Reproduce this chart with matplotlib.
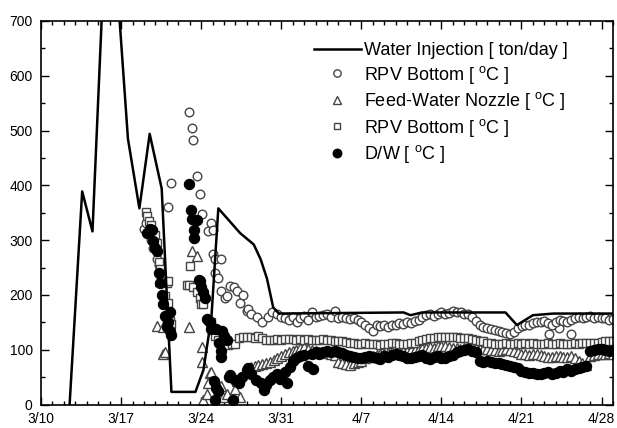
import numpy as np
import matplotlib
matplotlib.use('Agg')
import matplotlib.pyplot as plt
from matplotlib.ticker import MultipleLocator

plt.rcParams['font.family'] = ['Liberation Sans', 'DejaVu Sans']
plt.rcParams['mathtext.fontset'] = 'custom'
plt.rcParams['mathtext.rm'] = 'Liberation Sans'

# days since 3/10
tick_days = [0, 7, 14, 21, 28, 35, 42, 49]
tick_labels = ['3/10', '3/17', '3/24', '3/31', '4/7', '4/14', '4/21', '4/28']

# water injection [ton/day]
inj_day = [2.5, 3.6, 4.5, 5.9, 7.6, 8.6, 9.5, 10.55, 11.4, 13.5, 14.2, 14.9, 15.5,
           17.4, 18.6, 19.2, 19.75, 20.3, 20.8, 31.7, 32.3, 33.3, 40.6, 41.6, 43.0, 44.8, 50.0]
inj_val = [0, 389, 316, 990, 485, 358, 494, 394, 23, 23, 63, 160, 358,
           313, 292, 265, 230, 177, 166, 168, 163, 168, 168, 145, 163, 166, 166]

# RPV bottom (circles): scattered early readings
circ_day = [9.0, 9.2, 9.4, 9.6, 9.8, 10.1, 10.3, 11.1, 11.4, 12.95, 13.2, 13.3, 13.6, 13.9,
            14.1, 14.6, 14.85, 15.0, 15.0, 15.2, 15.75, 15.2, 15.5, 15.7, 16.1, 16.3, 16.5,
            16.9, 17.1, 17.4, 17.7, 18.0, 18.1, 18.4, 18.9, 19.3, 19.8, 20.2, 44.4, 45.3, 46.3]
circ_val = [320, 331, 312, 300, 285, 265, 255, 360, 405, 533, 504, 482, 417, 385,
            347, 316, 331, 319, 274, 266, 265, 240, 230, 207, 195, 198, 217,
            214, 207, 186, 199, 171, 174, 165, 159, 150, 160, 168, 129, 140, 129]
# RPV bottom (circles): readings every 8 h from day 20.67
circ_band = [165, 160, 158, 155, 160, 150, 158, 162, 155, 168, 160, 162, 163, 165, 160,
             170, 158, 160, 157, 156, 158, 155, 150, 145, 140, 135, 145, 143, 145, 142,
             146, 145, 148, 147, 150, 148, 152, 155, 160, 163, 165, 162, 166, 168, 165,
             167, 170, 168, 168, 166, 165, 160, 152, 146, 142, 140, 138, 136, 134, 132,
             130, 128, 132, 140, 144, 146, 146, 148, 150, 150, 152, 148, 146, 150, 155,
             152, 150, 155, 158, 160, 157, 160, 162, 158, 160, 158, 157, 155, 156]

# feed-water nozzle (triangles)
tri_day = [10.1, 10.3, 10.4, 10.7, 10.7, 10.85, 12.9, 13.2, 13.6, 14.05, 14.05, 14.2,
           14.5, 14.6, 14.8, 14.9, 15.7, 15.9, 16.25, 17.0, 17.1, 17.4]
tri_val = [144, 250, 225, 141, 93, 96, 141, 280, 271, 105, 78, 8,
           20, 39, 57, 60, 33, 14, 20, 29, 42, 14]
tri_band = [66, 68, 70, 72, 74, 76, 78, 82, 85, 88, 92, 95, 98, 100, 103,
            105, 102, 100, 98, 96, 95, 94, 92, 90, 78, 76, 74, 72, 75, 78,
            80, 84, 86, 88, 90, 92, 93, 94, 95, 96, 95, 97, 98, 99, 100,
            101, 103, 104, 105, 104, 106, 107, 106, 105, 104, 103, 102, 104, 106, 105,
            103, 102, 101, 102, 100, 99, 98, 100, 101, 99, 97, 95, 93, 92, 90,
            92, 93, 90, 88, 87, 86, 88, 89, 87, 86, 88, 85, 80, 75, 72,
            88, 90, 92, 93, 92, 94, 93, 92]

# RPV bottom (squares)
sq_day = [9.2, 9.3, 9.4, 9.6, 9.8, 9.95, 10.1, 10.3, 10.4, 10.5, 10.7, 11.0, 11.1, 10.85,
          11.1, 11.3, 11.4, 13.0, 12.8, 12.9, 13.3, 13.6, 13.9, 14.0, 14.2, 14.9, 15.2, 15.5]
sq_val = [352, 344, 335, 328, 315, 310, 295, 260, 247, 235, 225, 222, 225, 198,
          185, 153, 147, 252, 218, 219, 214, 205, 195, 183, 183, 150, 125, 118]
sq_band = [112, 108, 110, 110, 122, 124, 123, 124, 122, 125, 121, 118, 118, 117, 119,
           118, 120, 119, 120, 118, 119, 118, 119, 117, 118, 117, 119, 117, 118, 116,
           116, 115, 114, 112, 113, 110, 111, 112, 110, 110, 111, 109, 110, 111, 112,
           112, 110, 111, 110, 112, 113, 115, 118, 120, 121, 122, 123, 124, 123, 124,
           123, 124, 122, 121, 122, 120, 118, 116, 115, 113, 112, 111, 110, 111, 112,
           111, 110, 112, 111, 112, 111, 112, 110, 111, 111, 112, 110, 111, 112, 111,
           110, 111, 112, 111, 112, 112, 113, 112, 113, 114, 115, 116, 116]

# D/W (filled circles)
dw_day = [9.25, 9.5, 9.7, 9.8, 10.0, 10.1, 10.3, 10.4, 10.55, 10.65, 10.85, 11.0, 11.1,
          11.3, 11.4, 11.3, 12.95, 13.1, 13.2, 13.4, 13.4, 13.6, 13.8, 13.9, 14.0, 14.2,
          14.35, 14.5, 14.7, 14.8, 14.9, 15.3, 15.8, 16.0, 16.25, 15.6, 15.7, 15.7, 15.1,
          15.3, 15.2, 15.5, 16.4, 16.5, 16.8, 17.0, 17.3, 17.6, 18.0, 18.1, 18.4, 18.8,
          19.2, 19.45, 19.7, 20.0, 20.3, 20.6, 20.9, 21.3, 21.5, 21.8, 23.8]
dw_val = [313, 320, 319, 298, 285, 280, 240, 222, 200, 183, 162, 141, 150,
          135, 127, 168, 403, 355, 339, 319, 304, 337, 228, 225, 215, 205,
          195, 156, 152, 150, 138, 137, 135, 125, 117, 113, 98, 87, 42,
          30, 9, 24, 51, 54, 9, 45, 40, 50, 63, 66, 55, 45,
          39, 27, 35, 45, 51, 55, 46, 60, 40, 69, 65]
dw_band = [80, 85, 88, 90, 70, 92, 95, 93, 96, 98, 95, 97, 96, 94, 90,
           88, 86, 85, 84, 86, 88, 86, 85, 83, 88, 87, 90, 92, 90, 88,
           85, 84, 86, 88, 90, 85, 83, 86, 88, 85, 84, 88, 90, 95, 98,
           100, 102, 98, 95, 80, 78, 80, 78, 75, 76, 74, 72, 70, 68, 66,
           62, 60, 58, 57, 55, 56, 58, 60, 56, 58, 62, 60, 64, 62, 65,
           66, 68, 70, 98, 100, 102, 101, 100, 98, 100, 99]


def band_days(start, vals):
    return start + np.arange(len(vals)) / 3.0


fig = plt.figure(figsize=(6.17, 4.28), dpi=100)
ax = fig.add_axes([41 / 617, 23.5 / 428, 572 / 617, 383.5 / 428])

ec = '#444444'
ax.plot(inj_day, inj_val, color='black', lw=1.8, label='Water Injection [ ton/day ]', zorder=3)

cx = np.concatenate([circ_day, band_days(20.67, circ_band)])
cy = np.concatenate([circ_val, circ_band])
ax.plot(cx, cy, ls='none', marker='o', ms=6.2, mfc='white', mec=ec, mew=1.0,
        label=r'RPV Bottom [ $^{\mathrm{o}}$C ]')

tx = np.concatenate([tri_day, band_days(18.0, tri_band)])
ty = np.concatenate([tri_val, tri_band])
ax.plot(tx, ty, ls='none', marker='^', ms=6.5, mfc='white', mec=ec, mew=1.0,
        label=r'Feed-Water Nozzle [ $^{\mathrm{o}}$C ]')

sx = np.concatenate([sq_day, band_days(16.0, sq_band)])
sy = np.concatenate([sq_val, sq_band])
ax.plot(sx, sy, ls='none', marker='s', ms=5.4, mfc='white', mec=ec, mew=1.0,
        label=r'RPV Bottom [ $^{\mathrm{o}}$C ]')

dx = np.concatenate([dw_day, band_days(22.0, dw_band)])
dy = np.concatenate([dw_val, dw_band])
ax.plot(dx, dy, ls='none', marker='o', ms=7.4, mfc='black', mec='black', mew=0.8,
        label=r'D/W [ $^{\mathrm{o}}$C ]')

ax.set_xlim(0, 50)
ax.set_ylim(0, 700)
ax.set_xticks(tick_days)
ax.set_xticklabels(tick_labels)
ax.xaxis.set_minor_locator(MultipleLocator(1))
ax.yaxis.set_major_locator(MultipleLocator(100))
ax.yaxis.set_minor_locator(MultipleLocator(50))
ax.tick_params(which='both', direction='in', top=True, right=True,
               width=1.0, colors='black')
ax.tick_params(which='major', length=6)
ax.tick_params(axis='y', which='major', pad=6, labelsize=10)
ax.tick_params(axis='x', which='major', pad=5.6, labelsize=10)
ax.tick_params(which='minor', length=3)
for s in ax.spines.values():
    s.set_linewidth(1.2)

ax.legend(loc='upper left', bbox_to_anchor=(0.477, 0.945), frameon=False, fontsize=13,
          handlelength=2.6, handletextpad=0.2, labelspacing=0.25, borderpad=0,
          borderaxespad=0, markerscale=0.85)

fig.savefig('out.png', dpi=100)
